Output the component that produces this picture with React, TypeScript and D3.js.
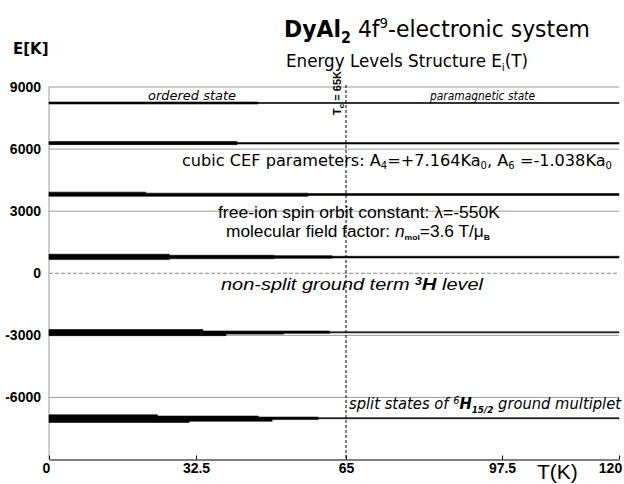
import React, { useEffect, useRef } from "react";
import * as d3 from "d3";

const xTicks = [0, 32.5, 65, 97.5, 120];
const xTickLabels = ["0", "32.5", "65", "97.5", "120"];
const yTicks = [9000, 6000, 3000, 0, -3000, -6000];
const yTickLabels = ["9000", "6000", "3000", "0", "-3000", "-6000"];
const gridValues = [9000, 6000, 3000, -3000, -6000];
const Tc = 65;

// energy bands (K) of the J multiplets vs temperature T (K)
const levelNames = ["6H5/2", "6H7/2", "6H9/2", "6H11/2", "6H13/2", "6H15/2"];
const levelT = [
  [0, 46, 120],
  [0, 41.4, 120],
  [0, 21.4, 56.8, 120],
  [0, 26.6, 49.5, 62, 120],
  [0, 34, 39, 51.5, 61.5, 120],
  [0, 24, 31, 46, 49, 59, 120],
];
const levelUpper = [
  [8275, 8250, 8250],
  [6365, 6315, 6315],
  [3920, 3870, 3850, 3850],
  [920, 870, 850, 820, 800],
  [-2720, -2790, -2790, -2790, -2830, -2830],
  [-6840, -6900, -6900, -6950, -6950, -6980, -6980],
];
const levelLower = [
  [8180, 8205, 8205],
  [6215, 6245, 6245],
  [3720, 3720, 3760, 3790],
  [660, 700, 720, 740, 745],
  [-3015, -3015, -2940, -2905, -2880, -2880],
  [-7210, -7210, -7150, -7150, -7070, -7030, -7030],
];

const W = 624;
const H = 484;

export default function App() {
  const xAxisRef = useRef<SVGGElement>(null);
  const yAxisRef = useRef<SVGGElement>(null);

  const x = d3.scaleLinear().domain(xTicks).range([49, 196, 346, 502, 619]);
  const y = d3.scaleLinear().domain([-9000, 9000]).range([459.5, 87]);

  useEffect(() => {
    if (xAxisRef.current) {
      const g = d3.select(xAxisRef.current);
      g.selectAll("*").remove();
      g.call(
        d3
          .axisBottom(x)
          .tickValues(xTicks)
          .tickFormat((d, i) => xTickLabels[i])
          .tickSizeInner(-4)
          .tickSizeOuter(0)
          .tickPadding(4)
      );
      g.select(".domain").attr("stroke", "#000").attr("stroke-width", 1.2);
      g.selectAll(".tick line").attr("stroke", "#000");
      g.selectAll(".tick text")
        .attr("font-family", "'Liberation Sans Narrow', 'Liberation Sans', sans-serif")
        .attr("font-weight", "bold")
        .attr("font-size", 14)
        .attr("fill", "#000")
        .attr("dx", (d, i) => (i === 0 ? -3 : i === xTicks.length - 1 ? -9 : 0));
    }
    if (yAxisRef.current) {
      const g = d3.select(yAxisRef.current);
      g.selectAll("*").remove();
      g.call(
        d3
          .axisLeft(y)
          .tickValues(yTicks)
          .tickFormat((d, i) => yTickLabels[i])
          .tickSize(0)
          .tickPadding(6)
      );
      g.select(".domain").remove();
      g.selectAll(".tick text")
        .attr("font-family", "'Liberation Sans Narrow', 'Liberation Sans', sans-serif")
        .attr("font-weight", "bold")
        .attr("font-size", 14)
        .attr("fill", "#000");
    }
  });

  const bandPaths = levelNames.map((name, k) => {
    const idx = levelT[k].map((_, i) => i);
    const gen = d3
      .area<number>()
      .x((i) => x(levelT[k][i]))
      .y0((i) => y(levelLower[k][i]))
      .y1((i) => y(levelUpper[k][i]))
      .curve(d3.curveStepAfter);
    return { name, d: gen(idx) || "" };
  });

  const x0 = x(0);
  const x1 = x(120);
  const vFont = "'DejaVu Sans', sans-serif";
  const armFont = "'Liberation Sans', Arial, sans-serif";

  return (
    <svg width={W} height={H} style={{ position: "absolute", left: 0, top: 0 }}>
      <rect width={W} height={H} fill="#fff" />
      {/* titles */}
      <text x={284} y={37} fontFamily={vFont} fontSize={23} fill="#000" textLength={306} lengthAdjust="spacingAndGlyphs">
        <tspan fontWeight="bold">DyAl</tspan>
        <tspan fontSize={15} dy={6} fontWeight="bold">2</tspan>
        <tspan dy={-6}> 4f</tspan>
        <tspan fontSize={14} dy={-9}>9</tspan>
        <tspan dy={9}>-electronic system</tspan>
      </text>
      <text x={286} y={67} fontFamily={vFont} fontSize={18} fill="#000" textLength={242} lengthAdjust="spacingAndGlyphs">
        Energy Levels Structure E<tspan fontSize={11} dy={4}>i</tspan>
        <tspan dy={-4}>(T)</tspan>
      </text>
      <text x={13} y={54} fontFamily={vFont} fontWeight="bold" fontSize={15} fill="#000">
        E[K]
      </text>

      {/* grid */}
      {gridValues.map((v) => (
        <line key={v} x1={x0} x2={x1} y1={y(v)} y2={y(v)} stroke="#9a9a9a" strokeWidth={1} />
      ))}
      <line x1={x0} x2={x1} y1={y(0)} y2={y(0)} stroke="#8a8a8a" strokeWidth={1} strokeDasharray="4,2" />
      <line x1={x0} x2={x0} y1={y(9000)} y2={y(-9000)} stroke="#9a9a9a" strokeWidth={1} />

      {/* energy bands */}
      {bandPaths.map((b) => (
        <path key={b.name} d={b.d} fill="#000" stroke="#000" strokeWidth={0.6} />
      ))}

      {/* Tc line */}
      <line x1={x(Tc)} x2={x(Tc)} y1={85} y2={y(-9000)} stroke="#000" strokeWidth={1} strokeDasharray="3,2" />
      <text
        transform={`translate(${x(Tc) - 5}, 93) rotate(-90)`}
        textAnchor="middle"
        fontFamily={armFont}
        fontWeight="bold"
        fontSize={11}
        fill="#000"
      >
        T<tspan fontSize={8} dy={3}>c</tspan>
        <tspan dy={-3}> = 65K</tspan>
      </text>

      <g ref={xAxisRef} transform={`translate(0, ${y(-9000)})`} />
      <g ref={yAxisRef} transform={`translate(${x0 - 2}, 0)`} />

      {/* annotations */}
      <text x={148} y={100} fontFamily={vFont} fontStyle="italic" fontSize={12.5} fill="#000" textLength={88} lengthAdjust="spacingAndGlyphs">
        ordered state
      </text>
      <text x={430} y={100} fontFamily={vFont} fontStyle="italic" fontSize={12.5} fill="#000" textLength={105} lengthAdjust="spacingAndGlyphs">
        paramagnetic state
      </text>
      <text x={182} y={166} fontFamily={vFont} fontSize={16} fill="#000" textLength={430} lengthAdjust="spacingAndGlyphs">
        cubic CEF parameters: A<tspan fontSize={10} dy={3}>4</tspan>
        <tspan dy={-3}>=+7.164Ka</tspan>
        <tspan fontSize={10} dy={3}>0</tspan>
        <tspan dy={-3}>, A</tspan>
        <tspan fontSize={10} dy={3}>6</tspan>
        <tspan dy={-3}> =-1.038Ka</tspan>
        <tspan fontSize={10} dy={3}>0</tspan>
      </text>
      <text x={218} y={218} fontFamily={armFont} fontSize={16} fill="#000" textLength={282} lengthAdjust="spacingAndGlyphs">
        free-ion spin orbit constant: λ=-550K
      </text>
      <text x={226} y={237} fontFamily={armFont} fontSize={16} fill="#000" textLength={264} lengthAdjust="spacingAndGlyphs">
        molecular field factor: <tspan fontStyle="italic">n</tspan>
        <tspan fontSize={8} dy={3} fontWeight="bold">mol</tspan>
        <tspan dy={-3}>=3.6 T/μ</tspan>
        <tspan fontSize={8} dy={3} fontWeight="bold">B</tspan>
      </text>
      <text x={221} y={290} fontFamily={armFont} fontStyle="italic" fontSize={16} fill="#000" textLength={262} lengthAdjust="spacingAndGlyphs">
        non-split ground term <tspan fontWeight="bold" fontSize={10} dy={-5}>3</tspan>
        <tspan fontWeight="bold" dy={5}>H</tspan> level
      </text>
      <text x={349} y={409} fontFamily={vFont} fontStyle="italic" fontSize={15} fill="#000" textLength={272} lengthAdjust="spacingAndGlyphs">
        split states of <tspan fontSize={10} dy={-5}>6</tspan>
        <tspan dy={5} fontWeight="bold">H</tspan>
        <tspan fontSize={9} dy={4} fontWeight="bold">15/2</tspan>
        <tspan dy={-4}> ground multiplet</tspan>
      </text>
      <text x={537} y={479} fontFamily={armFont} fontSize={21} fill="#000">
        T(K)
      </text>
    </svg>
  );
}
